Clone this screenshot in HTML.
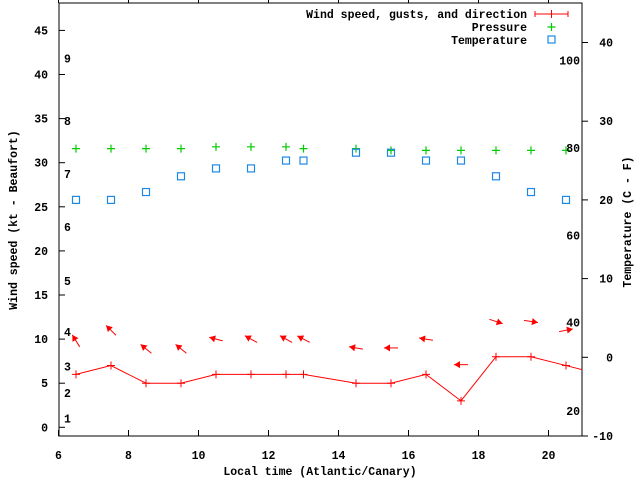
<!DOCTYPE html>
<html><head><meta charset="utf-8"><style>
html,body{margin:0;padding:0;background:#fff;}
svg{display:block;font-family:"Liberation Mono",monospace;font-weight:bold;font-size:11.5px;}
</style></head><body>
<svg id="chart" width="640" height="480" viewBox="0 0 640 480" xmlns="http://www.w3.org/2000/svg">
<defs><clipPath id="plotclip"><rect x="59" y="3" width="523" height="433"/></clipPath></defs>
<rect x="0" y="0" width="640" height="480" fill="#fff"/>
<g id="axes"></g>
<g id="marks" clip-path="url(#plotclip)"></g>
<g id="labels"></g>
<text x="320" y="475" text-anchor="middle">Local time (Atlantic/Canary)</text>
<text transform="translate(17,220) rotate(-90)" text-anchor="middle">Wind speed (kt - Beaufort)</text>
<text transform="translate(631,222) rotate(-90)" text-anchor="middle">Temperature (C - F)</text>
<g>
<text x="527" y="18" text-anchor="end">Wind speed, gusts, and direction</text>
<line x1="535" y1="14" x2="568" y2="14" stroke="#f00"/><line x1="535" y1="11" x2="535" y2="17" stroke="#f00"/><line x1="568" y1="11" x2="568" y2="17" stroke="#f00"/><line x1="551.5" y1="10" x2="551.5" y2="18" stroke="#f00"/>
<text x="527" y="31" text-anchor="end">Pressure</text>
<path d="M547.5 27h8M551.5 23v8" stroke="#0c0" stroke-width="1.2"/>
<text x="527" y="44" text-anchor="end">Temperature</text>
<rect x="548" y="36" width="7" height="7" fill="none" stroke="#1e88e5" stroke-width="1.2"/>
</g>
</svg>
<script>
const times=[6.5,7.5,8.5,9.5,10.5,11.5,12.5,13,14.5,15.5,16.5,17.5,18.5,19.5,20.5,21.5];
const windKt=[6,7,5,5,6,6,6,6,5,5,6,3,8,8,7,6];
const arrowKt=[9.8,11.0,8.9,8.9,10.0,10.0,10.0,10.0,9.0,9.0,10.0,7.1,12.0,12.0,11.0];
const arrowDeg=[328,315,309,309,285,299,299,297,280,270,279,270,108,99,79];
const pressure=[31.6,31.6,31.6,31.6,31.8,31.8,31.8,31.6,31.6,31.4,31.4,31.4,31.4,31.4,31.4];
const tempC=[20,20,21,23,24,24,25,25,26,26,25,25,23,21,20];
const xTicks=[6,8,10,12,14,16,18,20];
const yTicks=[0,5,10,15,20,25,30,35,40,45];
const y2Ticks=[-10,0,10,20,30,40];
const beaufortLabels=["1","2","3","4","5","6","7","8","9"];
const beaufortKt=[1,3.9,6.9,10.8,16.6,22.7,28.7,34.7,41.8];
const fLabels=["20","40","60","80","100"];
const fTempC=[-6.8,4.4,15.5,26.6,37.7];

const X=t=>58.5+(t-6)*35;
const Y=k=>427.3-k*8.82;
const Y2=c=>357.3-c*7.87;
const NS="http://www.w3.org/2000/svg";
function mk(parent,tag,attrs){const e=document.createElementNS(NS,tag);for(const k in attrs)e.setAttribute(k,attrs[k]);parent.appendChild(e);return e;}
const axes=document.getElementById('axes'),marks=document.getElementById('marks'),labels=document.getElementById('labels');

let b=mk(axes,'rect',{x:59,y:3,width:523,height:433,fill:'none',stroke:'#000'});


xTicks.forEach(t=>{
  let l=mk(axes,'path',{d:`M${X(t)} 436v-6M${X(t)} 0v3`,stroke:'#000'});
  
  
  let tx=mk(labels,'text',{x:X(t),y:459,'text-anchor':'middle'});tx.textContent=t;
  
  
});
yTicks.forEach(v=>{
  let l=mk(axes,'path',{d:`M59 ${Y(v)}h6`,stroke:'#000'});
  
  
  let tx=mk(labels,'text',{x:48,y:Y(v)+4,'text-anchor':'end'});tx.textContent=v;
  
  
});
y2Ticks.forEach(v=>{
  let l=mk(axes,'path',{d:`M582 ${Y2(v)}h6`,stroke:'#000'});
  
  
  let tx=mk(labels,'text',{x:613,y:Y2(v)+4,'text-anchor':'end'});tx.textContent=v;
  
  
});
beaufortLabels.forEach((s,i)=>{
  let tx=mk(labels,'text',{x:64,y:Y(beaufortKt[i])+4});tx.textContent=s;
  
  
});
fLabels.forEach((s,i)=>{
  let tx=mk(labels,'text',{x:580,y:Y2(fTempC[i])+4,'text-anchor':'end'});tx.textContent=s;
  
  
});
// wind line
let pts=times.map((t,i)=>X(t)+','+Y(windKt[i])).join(' ');
let pl=mk(marks,'polyline',{points:pts,fill:'none',stroke:'#f00'});


times.forEach((t,i)=>{
  let p=mk(marks,'path',{d:`M${X(t)-4} ${Y(windKt[i])}h8M${X(t)} ${Y(windKt[i])-4}v8`,stroke:'#f00'});
  
  
});
// arrows
arrowKt.forEach((k,i)=>{
  const cx=X(times[i]),cy=Y(k),a=arrowDeg[i]*Math.PI/180;
  const dx=Math.sin(a),dy=-Math.cos(a),L=7;
  const hx=cx+dx*L,hy=cy+dy*L,tx=cx-dx*L,ty=cy-dy*L;
  const px=-dy,py=dx;
  const g=mk(marks,'g',{});
  
  
  mk(g,'line',{x1:tx,y1:ty,x2:hx,y2:hy,stroke:'#f00'});
  mk(g,'polygon',{points:`${hx},${hy} ${hx-dx*6+px*3.5},${hy-dy*6+py*3.5} ${hx-dx*6-px*3.5},${hy-dy*6-py*3.5}`,fill:'#f00'});
});
// pressure
pressure.forEach((v,i)=>{
  let p=mk(marks,'path',{d:`M${X(times[i])-4} ${Y(v)}h8M${X(times[i])} ${Y(v)-4}v8`,stroke:'#0c0','stroke-width':1.2});
  
  
});
// temperature
tempC.forEach((v,i)=>{
  let r=mk(marks,'rect',{x:X(times[i])-3.5,y:Y2(v)-3.5,width:7,height:7,fill:'none',stroke:'#1e88e5','stroke-width':1.2});
  
  
});
</script>
</body></html>
